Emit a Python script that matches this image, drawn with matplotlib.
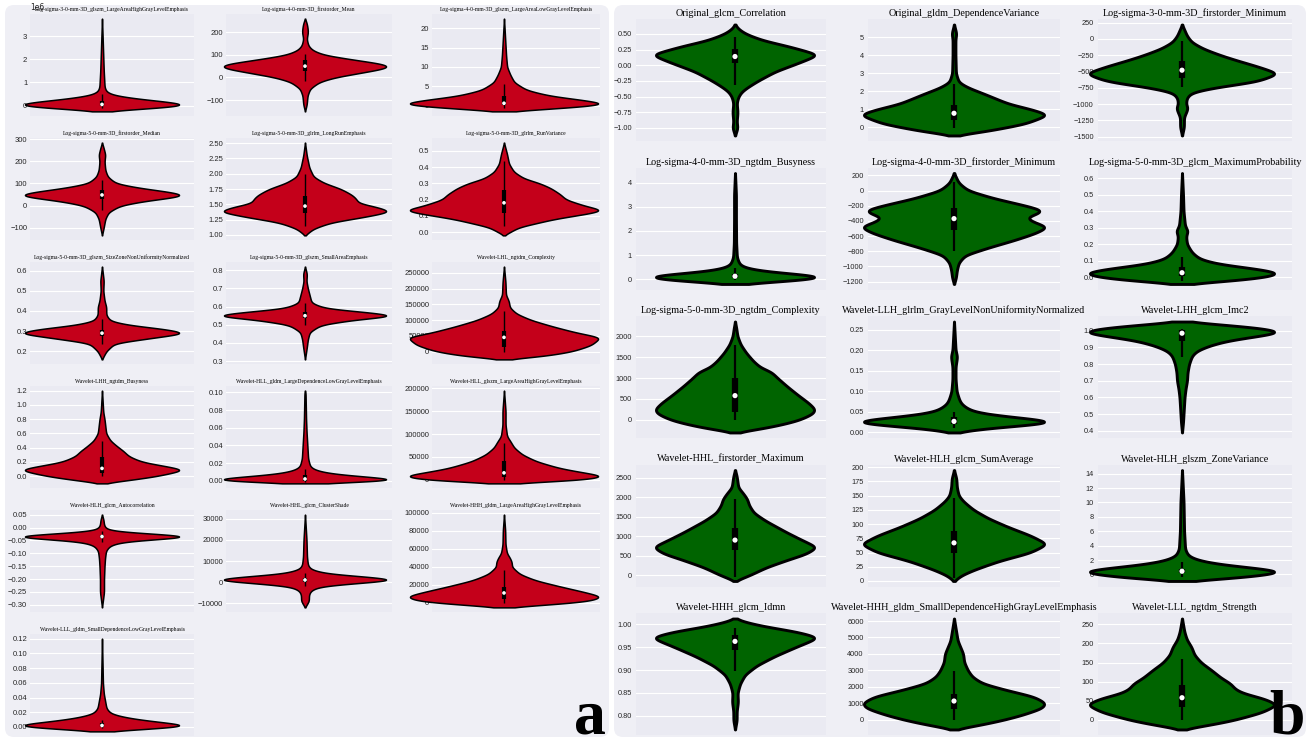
import numpy as np
import matplotlib
matplotlib.use("Agg")
import matplotlib.pyplot as plt
from matplotlib.patches import FancyBboxPatch
from matplotlib.transforms import IdentityTransform

# ---------------------------------------------------------------- panel a data
a_titles = [
    "Log-sigma-3-0-mm-3D_glszm_LargeAreaHighGrayLevelEmphasis",
    "Log-sigma-4-0-mm-3D_firstorder_Mean",
    "Log-sigma-4-0-mm-3D_glszm_LargeAreaLowGrayLevelEmphasis",
    "Log-sigma-5-0-mm-3D_firstorder_Median",
    "Log-sigma-5-0-mm-3D_glrlm_LongRunEmphasis",
    "Log-sigma-5-0-mm-3D_glrlm_RunVariance",
    "Log-sigma-5-0-mm-3D_glszm_SizeZoneNonUniformityNormalized",
    "Log-sigma-5-0-mm-3D_glszm_SmallAreaEmphasis",
    "Wavelet-LHL_ngtdm_Complexity",
    "Wavelet-LHH_ngtdm_Busyness",
    "Wavelet-HLL_gldm_LargeDependenceLowGrayLevelEmphasis",
    "Wavelet-HLL_glszm_LargeAreaHighGrayLevelEmphasis",
    "Wavelet-HLH_glcm_Autocorrelation",
    "Wavelet-HHL_glcm_ClusterShade",
    "Wavelet-HHH_gldm_LargeAreaHighGrayLevelEmphasis",
    "Wavelet-LLL_gldm_SmallDependenceLowGrayLevelEmphasis",
]

a_yticks = [
    [0, 1e6, 2e6, 3e6],
    [-100, 0, 100, 200],
    [0, 5, 10, 15, 20],
    [-100, 0, 100, 200, 300],
    [1.00, 1.25, 1.50, 1.75, 2.00, 2.25, 2.50],
    [0.0, 0.1, 0.2, 0.3, 0.4, 0.5],
    [0.2, 0.3, 0.4, 0.5, 0.6],
    [0.3, 0.4, 0.5, 0.6, 0.7, 0.8],
    [0, 50000, 100000, 150000, 200000, 250000],
    [0.0, 0.2, 0.4, 0.6, 0.8, 1.0, 1.2],
    [0.00, 0.02, 0.04, 0.06, 0.08, 0.10],
    [0, 50000, 100000, 150000, 200000],
    [-0.30, -0.25, -0.20, -0.15, -0.10, -0.05, 0.00, 0.05],
    [-10000, 0, 10000, 20000, 30000],
    [0, 20000, 40000, 60000, 80000, 100000],
    [0.00, 0.02, 0.04, 0.06, 0.08, 0.10, 0.12],
]

# density outline: value knots and relative half-widths
a_knots = [
    [-0.25e6, -0.15e6, -0.05e6, 0.05e6, 0.15e6, 0.3e6, 0.45e6, 0.6e6, 0.8e6, 1.5e6, 3.75e6],
    [-150, -120, -80, -50, -20, 0, 20, 40, 50, 60, 80, 100, 120, 140, 170, 200, 220, 240, 260],
    [-1.5, -1.0, 0.0, 0.5, 1.5, 2.5, 4, 6, 8, 10, 13, 22.5],
    [-135, -100, -60, -30, 0, 20, 40, 48, 60, 80, 100, 130, 160, 200, 230, 260, 285],
    [0.99, 1.1, 1.2, 1.3, 1.38, 1.45, 1.52, 1.58, 1.65, 1.75, 1.85, 1.95, 2.1, 2.3, 2.51],
    [-0.02, 0.03, 0.08, 0.12, 0.135, 0.16, 0.2, 0.23, 0.27, 0.3, 0.33, 0.37, 0.42, 0.48, 0.55],
    [0.16, 0.2, 0.24, 0.27, 0.29, 0.31, 0.33, 0.35, 0.38, 0.42, 0.45, 0.5, 0.55, 0.62],
    [0.31, 0.38, 0.42, 0.46, 0.5, 0.53, 0.55, 0.57, 0.59, 0.62, 0.66, 0.7, 0.74, 0.78, 0.82],
    [-25000, -15000, 0, 20000, 45000, 60000, 80000, 100000, 120000, 140000, 160000, 180000, 220000, 270000],
    [-0.1, -0.05, 0.0, 0.09, 0.15, 0.2, 0.28, 0.35, 0.42, 0.5, 0.6, 0.7, 0.8, 0.9, 1.0, 1.2],
    [-0.003, -0.001, 0.001, 0.004, 0.008, 0.012, 0.016, 0.025, 0.035, 0.045, 0.055, 0.07, 0.1, 0.102],
    [-8000, -4000, 0, 8000, 15000, 25000, 40000, 55000, 70000, 85000, 95000, 120000, 150000, 195000],
    [-0.31, -0.25, -0.2, -0.15, -0.12, -0.09, -0.07, -0.055, -0.045, -0.035, -0.025, -0.015, -0.005, 0.01, 0.03, 0.05],
    [-12000, -9000, -6000, -4000, -2000, 0, 1000, 2500, 4000, 6000, 8000, 12000, 20000, 32000],
    [-5000, -2000, 2000, 7000, 12000, 18000, 25000, 32000, 40000, 45000, 50000, 55000, 65000, 80000, 98000],
    [-0.006, -0.003, 0.0, 0.002, 0.005, 0.009, 0.013, 0.018, 0.025, 0.035, 0.045, 0.06, 0.12],
]
a_widths = [
    [0, 0.4, 0.85, 1.0, 0.8, 0.4, 0.13, 0.05, 0.03, 0.02, 0],
    [0, 0.02, 0.03, 0.06, 0.17, 0.35, 0.65, 0.95, 1.0, 0.92, 0.55, 0.22, 0.09, 0.04, 0.02, 0.035, 0.03, 0.02, 0],
    [0, 0.35, 0.88, 1.0, 0.75, 0.45, 0.22, 0.1, 0.06, 0.03, 0.02, 0],
    [0, 0.02, 0.04, 0.08, 0.22, 0.5, 0.92, 1.0, 0.85, 0.45, 0.17, 0.07, 0.04, 0.03, 0.04, 0.02, 0],
    [0, 0.1, 0.3, 0.72, 1.0, 0.85, 0.62, 0.6, 0.55, 0.42, 0.22, 0.1, 0.05, 0.02, 0],
    [0, 0.15, 0.5, 0.9, 1.0, 0.82, 0.62, 0.57, 0.47, 0.36, 0.2, 0.1, 0.05, 0.03, 0],
    [0, 0.05, 0.15, 0.65, 1.0, 0.75, 0.32, 0.1, 0.05, 0.05, 0.03, 0.015, 0.02, 0],
    [0, 0.02, 0.03, 0.05, 0.17, 0.55, 1.0, 0.65, 0.22, 0.07, 0.05, 0.03, 0.015, 0.02, 0],
    [0, 0.4, 0.7, 0.9, 1.0, 0.75, 0.5, 0.28, 0.13, 0.06, 0.05, 0.02, 0.015, 0],
    [0, 0.35, 0.65, 1.0, 0.72, 0.48, 0.32, 0.26, 0.18, 0.1, 0.05, 0.04, 0.03, 0.015, 0.01, 0],
    [0, 0.65, 1.0, 0.65, 0.25, 0.1, 0.05, 0.03, 0.025, 0.02, 0.015, 0.01, 0.005, 0],
    [0, 0.45, 0.8, 1.0, 0.8, 0.55, 0.32, 0.18, 0.1, 0.06, 0.03, 0.015, 0.015, 0],
    [0, 0.02, 0.02, 0.025, 0.03, 0.04, 0.08, 0.2, 0.55, 1.0, 0.55, 0.12, 0.04, 0.02, 0.015, 0],
    [0, 0.04, 0.04, 0.06, 0.15, 0.65, 1.0, 0.65, 0.22, 0.06, 0.03, 0.02, 0.015, 0],
    [0, 0.45, 0.88, 1.0, 0.82, 0.58, 0.32, 0.16, 0.08, 0.08, 0.06, 0.03, 0.015, 0.012, 0],
    [0, 0.45, 0.85, 1.0, 0.78, 0.48, 0.26, 0.1, 0.05, 0.035, 0.02, 0.01, 0],
]
# (q1, median, q3) and whisker ends
a_quartiles = [
    (0.0, 0.05e6, 0.2e6), (30, 50, 75), (0.2, 0.6, 2.5), (30, 48, 70),
    (1.36, 1.47, 1.63), (0.12, 0.18, 0.26), (0.275, 0.29, 0.305), (0.535, 0.55, 0.57),
    (15000, 45000, 65000), (0.05, 0.11, 0.27), (0.0, 0.002, 0.006), (5000, 15000, 40000),
    (-0.04, -0.035, -0.03), (0, 1000, 2000), (4000, 11000, 18000), (0.0, 0.002, 0.005),
]
a_whiskers = [
    (-0.1e6, 0.5e6), (-15, 105), (-0.5, 5.5), (-20, 115),
    (1.15, 2.0), (0.04, 0.44), (0.235, 0.36), (0.5, 0.62),
    (0, 130000), (0.0, 0.5), (-0.001, 0.013), (0, 80000),
    (-0.055, -0.015), (-2000, 4500), (0, 36000), (-0.002, 0.01),
]

# ---------------------------------------------------------------- panel b data
b_titles = [
    "Original_glcm_Correlation",
    "Original_gldm_DependenceVariance",
    "Log-sigma-3-0-mm-3D_firstorder_Minimum",
    "Log-sigma-4-0-mm-3D_ngtdm_Busyness",
    "Log-sigma-4-0-mm-3D_firstorder_Minimum",
    "Log-sigma-5-0-mm-3D_glcm_MaximumProbability",
    "Log-sigma-5-0-mm-3D_ngtdm_Complexity",
    "Wavelet-LLH_glrlm_GrayLevelNonUniformityNormalized",
    "Wavelet-LHH_glcm_Imc2",
    "Wavelet-HHL_firstorder_Maximum",
    "Wavelet-HLH_glcm_SumAverage",
    "Wavelet-HLH_glszm_ZoneVariance",
    "Wavelet-HHH_glcm_Idmn",
    "Wavelet-HHH_gldm_SmallDependenceHighGrayLevelEmphasis",
    "Wavelet-LLL_ngtdm_Strength",
]

b_yticks = [
    [-1.00, -0.75, -0.50, -0.25, 0.00, 0.25, 0.50],
    [0, 1, 2, 3, 4, 5],
    [-1500, -1250, -1000, -750, -500, -250, 0, 250],
    [0, 1, 2, 3, 4],
    [-1200, -1000, -800, -600, -400, -200, 0, 200],
    [0.0, 0.1, 0.2, 0.3, 0.4, 0.5, 0.6],
    [0, 500, 1000, 1500, 2000],
    [0.00, 0.05, 0.10, 0.15, 0.20, 0.25],
    [0.4, 0.5, 0.6, 0.7, 0.8, 0.9, 1.0],
    [0, 500, 1000, 1500, 2000, 2500],
    [0, 25, 50, 75, 100, 125, 150, 175, 200],
    [0, 2, 4, 6, 8, 10, 12, 14],
    [0.80, 0.85, 0.90, 0.95, 1.00],
    [0, 1000, 2000, 3000, 4000, 5000, 6000],
    [0, 50, 100, 150, 200, 250],
]

b_knots = [
    [-1.12, -1.0, -0.9, -0.75, -0.6, -0.5, -0.42, -0.35, -0.25, -0.1, 0.05, 0.17, 0.3, 0.4, 0.5, 0.58, 0.65],
    [-0.45, -0.2, 0.2, 0.7, 1.0, 1.3, 1.6, 1.9, 2.2, 2.5, 3.0, 4.0, 4.9, 5.2, 5.7],
    [-1480, -1350, -1200, -1100, -1050, -1000, -900, -820, -750, -650, -530, -420, -330, -250, -150, -50, 50, 120, 220],
    [-0.2, -0.1, 0.0, 0.1, 0.2, 0.3, 0.45, 0.6, 0.9, 1.5, 2.5, 3.5, 4.4],
    [-1230, -1150, -1050, -950, -850, -750, -650, -560, -480, -400, -350, -300, -260, -200, -100, 0, 100, 230],
    [-0.04, -0.02, 0.0, 0.025, 0.05, 0.08, 0.11, 0.15, 0.2, 0.25, 0.28, 0.31, 0.4, 0.5, 0.63],
    [-300, -200, -100, 0, 150, 250, 400, 600, 800, 1000, 1150, 1250, 1400, 1600, 1800, 2000, 2200, 2350],
    [0.0, 0.01, 0.02, 0.025, 0.032, 0.04, 0.05, 0.06, 0.07, 0.08, 0.1, 0.13, 0.16, 0.185, 0.2, 0.27],
    [0.39, 0.45, 0.5, 0.55, 0.6, 0.65, 0.7, 0.75, 0.8, 0.85, 0.88, 0.91, 0.94, 0.97, 0.99, 1.01, 1.03, 1.045, 1.055],
    [-150, 0, 200, 400, 550, 720, 900, 1100, 1250, 1400, 1600, 1800, 1950, 2100, 2250, 2400, 2550, 2700],
    [0, 10, 20, 35, 50, 65, 80, 95, 110, 125, 140, 150, 165, 180, 195],
    [-0.9, -0.5, 0.0, 0.4, 0.9, 1.4, 2.0, 2.6, 3.5, 6, 10, 14.5],
    [0.77, 0.79, 0.81, 0.83, 0.85, 0.87, 0.89, 0.91, 0.93, 0.95, 0.965, 0.972, 0.985, 0.995, 1.005, 1.013],
    [-600, -300, 0, 300, 700, 1000, 1400, 1800, 2200, 2600, 3000, 3500, 4000, 4400, 4800, 5300, 6150],
    [-25, -10, 0, 20, 40, 55, 70, 80, 95, 110, 130, 150, 170, 190, 210, 230, 265],
]
b_widths = [
    [0, 0.03, 0.02, 0.03, 0.02, 0.04, 0.08, 0.15, 0.27, 0.48, 0.78, 1.0, 0.65, 0.33, 0.13, 0.04, 0],
    [0, 0.35, 0.75, 1.0, 0.82, 0.58, 0.44, 0.3, 0.15, 0.05, 0.02, 0.015, 0.015, 0.025, 0],
    [0, 0.02, 0.02, 0.05, 0.06, 0.04, 0.05, 0.1, 0.32, 0.78, 1.0, 0.78, 0.57, 0.4, 0.22, 0.1, 0.05, 0.03, 0],
    [0, 0.45, 0.82, 1.0, 0.72, 0.37, 0.12, 0.05, 0.02, 0.012, 0.01, 0.01, 0],
    [0, 0.02, 0.03, 0.05, 0.12, 0.37, 0.65, 0.87, 1.0, 0.82, 0.77, 0.9, 0.95, 0.77, 0.42, 0.15, 0.05, 0],
    [0, 0.5, 0.82, 1.0, 0.77, 0.37, 0.18, 0.1, 0.05, 0.04, 0.06, 0.03, 0.015, 0.01, 0],
    [0, 0.35, 0.6, 0.8, 0.97, 1.0, 0.92, 0.78, 0.65, 0.53, 0.45, 0.32, 0.23, 0.14, 0.07, 0.03, 0.015, 0],
    [0, 0.3, 0.8, 1.0, 0.82, 0.47, 0.2, 0.12, 0.07, 0.05, 0.025, 0.015, 0.015, 0.03, 0.015, 0],
    [0, 0.01, 0.015, 0.02, 0.025, 0.035, 0.05, 0.055, 0.07, 0.1, 0.15, 0.27, 0.45, 0.78, 1.0, 0.88, 0.55, 0.22, 0],
    [0, 0.18, 0.38, 0.65, 0.87, 1.0, 0.82, 0.63, 0.5, 0.37, 0.23, 0.17, 0.15, 0.1, 0.04, 0.03, 0.02, 0],
    [0, 0.08, 0.22, 0.48, 0.82, 1.0, 0.82, 0.58, 0.37, 0.21, 0.1, 0.05, 0.03, 0.025, 0],
    [0, 0.5, 0.82, 1.0, 0.72, 0.37, 0.15, 0.06, 0.03, 0.02, 0.015, 0],
    [0, 0.02, 0.02, 0.035, 0.03, 0.06, 0.12, 0.26, 0.47, 0.72, 0.92, 1.0, 0.72, 0.38, 0.13, 0],
    [0, 0.3, 0.55, 0.75, 0.96, 1.0, 0.87, 0.57, 0.31, 0.2, 0.15, 0.11, 0.1, 0.07, 0.04, 0.025, 0],
    [0, 0.35, 0.55, 0.84, 1.0, 0.87, 0.64, 0.56, 0.51, 0.41, 0.31, 0.2, 0.13, 0.1, 0.05, 0.025, 0],
]
b_quartiles = [
    (0.04, 0.14, 0.26), (0.4, 0.78, 1.25), (-600, -480, -340),
    (0.05, 0.12, 0.2), (-520, -370, -230), (0.01, 0.028, 0.06),
    (200, 580, 1000), (0.02, 0.027, 0.037), (0.94, 0.985, 1.005),
    (650, 900, 1220), (50, 67, 88), (0.15, 0.45, 0.8),
    (0.945, 0.963, 0.978), (650, 1130, 1550), (35, 58, 90),
]
b_whiskers = [
    (-0.32, 0.45), (-0.05, 2.4), (-740, -30),
    (-0.05, 0.45), (-800, 110), (-0.02, 0.12),
    (0, 1800), (0.01, 0.05), (0.84, 1.01),
    (-50, 1950), (5, 145), (-0.3, 1.7),
    (0.898, 0.993), (0, 2950), (0, 160),
]

RED = "#C4001A"
GREEN = "#006400"
PANEL_BG = "#EFEFF5"
AX_BG = "#EAEAF2"

W, H = 1310, 739
fig = plt.figure(figsize=(W / 100, H / 100), dpi=100)
fig.patch.set_facecolor("white")


def add_panel(x0, y0, x1, y1):
    p = FancyBboxPatch((x0, H - y1), x1 - x0, y1 - y0,
                       boxstyle="round,pad=0,rounding_size=9",
                       facecolor=PANEL_BG, edgecolor="none",
                       transform=IdentityTransform(), zorder=0)
    fig.add_artist(p)


add_panel(5, 5, 609, 737)
add_panel(614, 5, 1306, 737)


def smooth_profile(ys, ws, n=500):
    ys = np.asarray(ys, float)
    ws = np.asarray(ws, float)
    grid = np.linspace(ys[0], ys[-1], n)
    prof = np.interp(grid, ys, ws)
    half = 30
    k = np.exp(-0.5 * (np.arange(-half, half + 1) / 9.0) ** 2)
    k /= k.sum()
    padded = np.pad(prof, half, mode="constant")
    prof = np.convolve(padded, k, mode="same")[half:-half]
    return grid, prof


def make_axes(ax_l, ax_r, v_l, v_r, top, height):
    ax = fig.add_axes([ax_l / W, 1 - (top + height) / H, (ax_r - ax_l) / W, height / H])
    ax.set_facecolor(AX_BG)
    for s in ax.spines.values():
        s.set_visible(False)
    vc = 0.5 * (v_l + v_r)
    ppu = (v_r - v_l) / 0.8
    ax.set_xlim((ax_l - vc) / ppu, (ax_r - vc) / ppu)
    ax.set_xticks([])
    ax.grid(axis="y", color="white", lw=0.8)
    ax.set_axisbelow(True)
    return ax


def draw_violin(ax, ys, ws, q, wh, face, edge_lw, box_lw, wh_lw, dot):
    grid, prof = smooth_profile(ys, ws)
    stats = [dict(coords=grid, vals=prof, mean=q[1], median=q[1],
                  min=grid[0], max=grid[-1])]
    parts = ax.violin(stats, positions=[0], widths=0.8, showmeans=False,
                      showextrema=False, showmedians=False)
    for body in parts["bodies"]:
        body.set_facecolor(face)
        body.set_edgecolor("black")
        body.set_linewidth(edge_lw)
        body.set_alpha(1)
        body.set_clip_on(False)
        body.set_zorder(2)
    ax.vlines(0, wh[0], wh[1], color="black", lw=wh_lw, zorder=3, clip_on=False)
    ax.vlines(0, q[0], q[2], color="black", lw=box_lw, zorder=3, clip_on=False)
    ax.scatter([0], [q[1]], s=dot, color="white", edgecolor="none", zorder=4, clip_on=False)


# ---------------------------------------------------------------- panel a
a_cols = [(30, 194, 25, 179), (226, 392, 224, 386), (432, 600, 410, 598)]
for i, title in enumerate(a_titles):
    r, c = divmod(i, 3)
    ax_l, ax_r, v_l, v_r = a_cols[c]
    ax = make_axes(ax_l, ax_r, v_l, v_r, 14 + 124 * r, 102)
    draw_violin(ax, a_knots[i], a_widths[i], a_quartiles[i], a_whiskers[i],
                RED, 1.1, 3.0, 1.0, 7)
    ax.set_yticks(a_yticks[i])
    ax.tick_params(axis="y", length=0, pad=2, labelsize=5.5, labelcolor="#262626")
    for lab in ax.get_yticklabels():
        lab.set_family("Liberation Sans")
    ax.yaxis.get_offset_text().set_fontsize(5.5)
    ax.set_title(title, fontsize=4.1, family="Liberation Serif", y=1.0, pad=2.5)

# ---------------------------------------------------------------- panel b
b_cols = [(636, 826, 656, 814), (868, 1060, 864, 1044), (1098, 1292, 1090, 1274)]
for i, title in enumerate(b_titles):
    r, c = divmod(i, 3)
    ax_l, ax_r, v_l, v_r = b_cols[c]
    ax = make_axes(ax_l, ax_r, v_l, v_r, 19 + 148.5 * r, 122)
    draw_violin(ax, b_knots[i], b_widths[i], b_quartiles[i], b_whiskers[i],
                GREEN, 2.1, 4.5, 1.6, 14)
    ax.set_yticks(b_yticks[i])
    ax.tick_params(axis="y", length=0, pad=3, labelsize=5.3, labelcolor="#262626")
    for lab in ax.get_yticklabels():
        lab.set_family("Liberation Sans")
    ax.set_title(title, fontsize=7.3, family="Liberation Serif", y=1.0, pad=2)

# panel letters
fig.text(590 / W, 1 - 733 / H, "a", fontsize=46, family="Liberation Serif",
         fontweight="bold", ha="center", va="baseline")
fig.text(1287 / W, 1 - 733 / H, "b", fontsize=46, family="Liberation Serif",
         fontweight="bold", ha="center", va="baseline")

fig.savefig("out.png", dpi=100, facecolor="white")
